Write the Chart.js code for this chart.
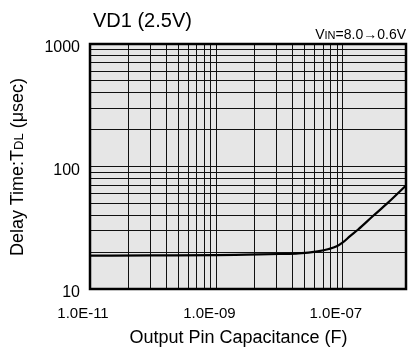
<!DOCTYPE html>
<html>
<head>
<meta charset="utf-8">
<script src="https://cdn.jsdelivr.net/npm/chart.js@4"></script>
<style>
html, body { margin: 0; padding: 0; background: #fff; }
#wrap { position: relative; width: 410px; height: 356px; font-family: "Liberation Sans", Arial, Helvetica, sans-serif; color: #000; }
#wrap canvas { position: absolute; left: 0; top: 0; }
.txt { position: absolute; white-space: nowrap; line-height: 1; }
#title { left: 93px; top: 9.5px; font-size: 20px; }
#cond { right: 4px; top: 26.5px; font-size: 14px; }
#cond .sc { font-size: 11px; }
#ytitle { left: -102.7px; top: 157.5px; width: 240px; text-align: center; font-size: 18px; transform: rotate(-90deg); }
#ytitle .sc { font-size: 13px; }
#xtitle { left: 88.5px; top: 327.8px; width: 300px; text-align: center; font-size: 18px; }
</style>
</head>
<body>
<div id="wrap">
  <canvas id="delayChart" width="410" height="356"></canvas>
  <div class="txt" id="title">VD1 (2.5V)</div>
  <div class="txt" id="cond">V<span class="sc">IN</span>=8.0→0.6V</div>
  <div class="txt" id="ytitle">Delay Time:T<span class="sc">DL</span> (μsec)</div>
  <div class="txt" id="xtitle">Output Pin Capacitance (F)</div>
</div>
<script>
// 讀圖估計值 (F, μsec)
const capacitance = [1e-11, 1e-10, 1e-9, 3e-9, 1e-8, 2e-8, 4e-8, 6e-8, 8e-8, 1e-7, 1.3e-7, 1.75e-7, 3e-7, 5.2e-7, 1e-6];
const delayTime = [18.7, 18.8, 18.9, 19.1, 19.3, 19.5, 20.3, 21.2, 22.3, 24.0, 27.0, 30.6, 39.4, 50.7, 70.0];

const xMajorValues = [1e-11, 1e-9, 1e-7];
const xTickLabels = ['1.0E-11', '1.0E-09', '1.0E-07'];
const yMajorValues = [10, 100, 1000];
const yTickLabels = ['10', '100', '1000'];

// 格線: x 軸每格代表兩個十進位
const xGrid = [];
[1e-11, 1e-9].forEach(m => { for (let k = 1; k <= 9; k++) xGrid.push(m * k * k); });
xGrid.push(1e-7);
const yGrid = [];
[10, 100].forEach(m => { for (let k = 1; k <= 9; k++) yGrid.push(m * k); });
yGrid.push(1000);

function labelFor(value, majors, labels) {
    const i = majors.findIndex(m => Math.abs(Math.log10(m) - Math.log10(value)) < 1e-6);
    return i >= 0 ? labels[i] : '';
}

const plotFrame = {
    id: 'plotFrame',
    beforeDraw(chart) {
        const { ctx, chartArea: a } = chart;
        ctx.save();
        ctx.fillStyle = '#e6e6e6';
        ctx.fillRect(a.left, a.top, a.right - a.left, a.bottom - a.top);
        ctx.restore();
    },
    afterDraw(chart) {
        const { ctx, chartArea: a } = chart;
        ctx.save();
        ctx.strokeStyle = '#000';
        ctx.lineWidth = 2.5;
        ctx.strokeRect(a.left, a.top, a.right - a.left, a.bottom - a.top);
        ctx.restore();
    }
};

const fontFamily = '"Liberation Sans", Arial, Helvetica, sans-serif';

new Chart(document.getElementById('delayChart').getContext('2d'), {
    type: 'line',
    data: {
        datasets: [{
            data: capacitance.map((c, i) => ({ x: c, y: delayTime[i] })),
            borderColor: '#000',
            borderWidth: 2.2,
            pointRadius: 0,
            fill: false,
            cubicInterpolationMode: 'monotone'
        }]
    },
    options: {
        responsive: false,
        animation: false,
        devicePixelRatio: 1,
        layout: { padding: { left: 0, top: 44, right: 4, bottom: 0 } },
        plugins: { legend: { display: false }, tooltip: { enabled: false } },
        scales: {
            x: {
                type: 'logarithmic',
                min: 1e-11,
                max: 1e-6,
                afterBuildTicks: s => { s.ticks = xGrid.map(v => ({ value: v })); },
                afterFit: s => { s.height = 67; },
                grid: { color: '#111', lineWidth: 1, drawTicks: false },
                border: { display: false },
                ticks: {
                    autoSkip: false, maxRotation: 0, padding: 16, labelOffset: -7,
                    color: '#000', font: { family: fontFamily, size: 15 },
                    callback: v => labelFor(v, xMajorValues, xTickLabels)
                }
            },
            y: {
                type: 'logarithmic',
                min: 10,
                max: 1000,
                afterBuildTicks: s => { s.ticks = yGrid.map(v => ({ value: v })); },
                afterFit: s => { s.width = 90; },
                grid: { color: '#111', lineWidth: 1, drawTicks: false },
                border: { display: false },
                ticks: {
                    autoSkip: false, padding: 10, labelOffset: 4,
                    color: '#000', font: { family: fontFamily, size: 16 },
                    callback: v => labelFor(v, yMajorValues, yTickLabels)
                }
            }
        }
    },
    plugins: [plotFrame]
});
</script>
</body>
</html>
